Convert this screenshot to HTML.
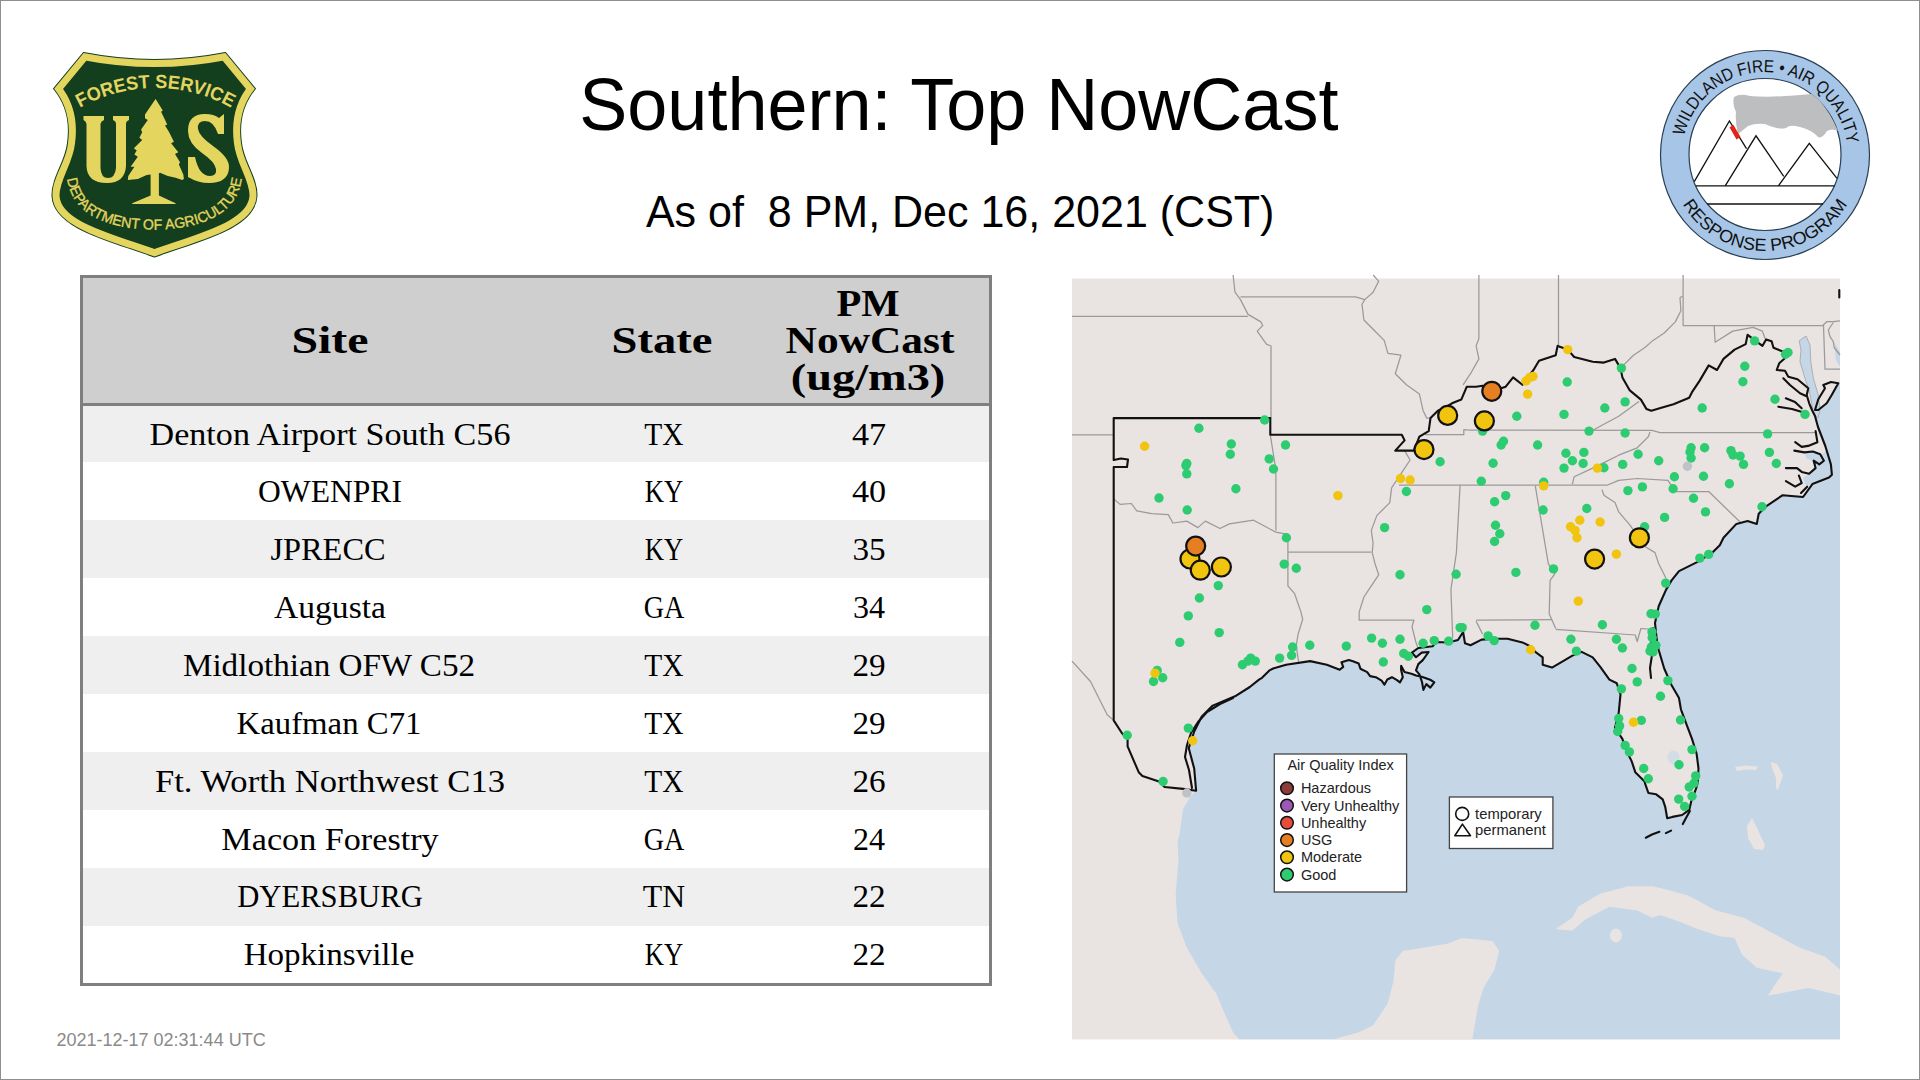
<!DOCTYPE html>
<html><head><meta charset="utf-8"><title>Southern: Top NowCast</title>
<style>
html,body{margin:0;padding:0;background:#fff}
body{width:1920px;height:1080px;position:relative;overflow:hidden;font-family:"Liberation Sans",sans-serif}
.frame{position:absolute;left:0;top:0;width:1920px;height:1080px;box-sizing:border-box;border:1px solid #8e8e8e;z-index:10;pointer-events:none}
.title{position:absolute;white-space:pre;font-family:"Liberation Sans",sans-serif;color:#000;line-height:1}
.tbl{position:absolute;left:80px;top:275px;width:912px;height:711px;box-sizing:border-box;border:3px solid #7f7f7f;background:#fff}
.hdr{position:absolute;left:83px;top:278px;width:906px;height:125px;background:#cfcfcf}
.hline{position:absolute;left:83px;top:403px;width:906px;height:3px;background:#7f7f7f}
.row{position:absolute;left:83px;width:906px}
.td{position:absolute;white-space:pre;font-family:"Liberation Serif",serif;font-size:31px;line-height:1;color:#000}
.th{position:absolute;white-space:pre;font-family:"Liberation Serif",serif;font-weight:bold;font-size:38px;line-height:1;color:#000}
.ts{position:absolute;left:56.5px;top:1030.8px;white-space:pre;font-family:"Liberation Sans",sans-serif;font-size:18px;line-height:1;color:#8a8a8a}
</style></head><body>
<div class="frame"></div>
<svg style="position:absolute;left:0;top:0" width="300" height="300" viewBox="0 0 300 300">
<defs>
<path id="shield" d="M83.6 53.1 Q154.5 67 225.4 53.1 L254.9 88.7 C243 103 238 122 241 143 C243 162 257 178 256.5 196 C255 228 200 240 154.5 256.5 C109 240 54 228 52.5 196 C52 178 66 162 68 143 C71 122 66 103 54.1 88.7 Z"/>
<clipPath id="shclip"><use href="#shield"/></clipPath>
<path id="arcTop" d="M1.5 242 A154 154 0 0 1 309.5 242"/>
<path id="arcBot" d="M66.5 150 L67 172 C67 215 110 229.6 154.6 229.6 C199 229.6 242 215 242 172 L242.5 150"/>
</defs>
<use href="#shield" fill="#143f1f" stroke="#143f1f" stroke-width="2"/>
<use href="#shield" fill="none" stroke="#e4d55f" stroke-width="14" clip-path="url(#shclip)"/>
<text font-family="Liberation Sans" font-weight="bold" font-size="19" fill="#e4d55f"><textPath href="#arcTop" startOffset="50%" text-anchor="middle" textLength="158" lengthAdjust="spacingAndGlyphs">FOREST SERVICE</textPath></text>
<text font-family="Liberation Sans" font-size="14.5" fill="#e4d55f" stroke="#e4d55f" stroke-width="0.35"><textPath href="#arcBot" startOffset="50%" text-anchor="middle" textLength="222" lengthAdjust="spacingAndGlyphs">DEPARTMENT OF AGRICULTURE</textPath></text>
<!-- U -->
<path fill="#e4d55f" d="M83.5 116 H104 V120 Q101 121 100.5 124 V168 Q101 178 108 178 Q115 178 116 168 V124 Q116 121 113 120 V116 H129 V120 Q126 121 126 124 V166 Q125 183 107 183 Q87 183 86.5 166 V124 Q86 121 83.5 120 Z"/>
<!-- S -->
<path fill="#e4d55f" d="M224 114 V134 H218 Q214 121 205 121 Q197 121 198 129 Q199 136 213 146 Q230 158 229 168 Q228 183 209 183 Q198 183 188 177 V157 H195 Q199 176 210 176 Q217 176 216 169 Q215 162 202 153 Q188 143 188 131 Q188 114 205 114 Q214 114 219 118 Z"/>
<!-- tree -->
<path fill="#e4d55f" d="M155.6 98.9 L162.8 110.6 L161.1 111.7 L167.2 124.4 L165 125.6 L168.9 131.7 L173.9 141.7 L171.1 143.3 L178.3 152.2 L175 153.9 L180 162.2 L178.9 164.4 L183.3 174.4 L183.9 178.9 L182.2 180 L175.6 177.8 L167.8 176.1 L160 172.8 L158.9 173.3 L158.9 195.6 L175.6 203.3 L175.6 203.9 L132.2 203.9 L132.2 203.3 L150.6 195.6 L150.6 174.4 L146.7 175 L137.8 178.9 L127.8 180 L128.3 176.1 L134.4 166.7 L130.6 166.7 L137.8 156.7 L134.4 154.4 L136.7 150.6 L133.9 148.3 L142.2 140 L139.4 137.8 L142.2 132.2 L141.1 129.4 L147.8 120 L145 118.3 L145 114.4 L151.1 105.6 Z"/>
</svg>
<svg style="position:absolute;left:1650px;top:40px" width="230" height="230" viewBox="1650 40 230 230">
<defs>
<path id="wArcTop" d="M1682 155 A83 83 0 0 1 1848 155"/>
<path id="wArcBot" d="M1669 155 A96 96 0 0 0 1861 155"/>
</defs>
<circle cx="1765" cy="155" r="104.5" fill="#a7c5e6" stroke="#2a3f55" stroke-width="1.2"/>
<circle cx="1765" cy="154.5" r="76" fill="#fff" stroke="#2a3f55" stroke-width="1.2"/>
<text font-family="Liberation Sans" font-size="17.5" fill="#111"><textPath href="#wArcTop" startOffset="51.5%" text-anchor="middle" textLength="230" lengthAdjust="spacingAndGlyphs">WILDLAND FIRE • AIR QUALITY</textPath></text>
<text font-family="Liberation Sans" font-size="17.5" fill="#111"><textPath href="#wArcBot" startOffset="50%" text-anchor="middle" textLength="198" lengthAdjust="spacingAndGlyphs">RESPONSE PROGRAM</textPath></text>
<path fill="#bcbec0" d="M1734 97 Q1740 93 1750 96 Q1772 98 1812 94 L1819 100 Q1830 112 1838 131 Q1832 128 1827 131 Q1822 139 1818 137 Q1812 130 1800 127 Q1790 124 1786 128 Q1778 130 1765 124 Q1755 123 1748 126 L1738 134 Q1735 122 1736 112 Q1732 104 1734 97 Z"/>
<g fill="none" stroke="#111" stroke-width="1.3">
<path d="M1694.3 181.6 L1729.4 120.9 L1746.5 148.6"/>
<path d="M1725.2 185.9 L1756 135.8 L1783.7 176.3"/>
<path d="M1778.4 185.9 L1809.3 143.3 L1837 178.4"/>
<path d="M1695.8 185.9 H1834.8"/>
<path d="M1707 204 H1823"/>
</g>
<path d="M1729.5 127.3 L1733.5 125 L1740.5 137 L1736.5 139.5 Z" fill="#e32319"/>
</svg>
<div class="title" style="left:579.3px;top:68.8px;font-size:72px;transform:scaleY(1.04);transform-origin:0 61px">Southern: Top NowCast</div>
<div class="title" style="left:645.9px;top:191.3px;font-size:43px;transform:scaleY(1.04);transform-origin:0 36px">As of  8 PM, Dec 16, 2021 (CST)</div>
<div class="tbl"></div>
<div class="hdr"></div>
<div class="hline"></div>
<div class="th" style="left:330px;top:320.8px;transform:translateX(-50%) scaleX(1.259)">Site</div>
<div class="th" style="left:662.2px;top:321.3px;transform:translateX(-50%) scaleX(1.225)">State</div>
<div class="th" style="left:868.4px;top:284.1px;transform:translateX(-50%) scaleX(1.07)">PM</div>
<div class="th" style="left:870px;top:321.3px;transform:translateX(-50%) scaleX(1.143)">NowCast</div>
<div class="th" style="left:868px;top:358px;transform:translateX(-50%) scaleX(1.22)">(ug/m3)</div>
<div class="row" style="top:406px;height:56px;background:#efefef"></div>
<div class="td" style="left:330px;top:419px;transform:translateX(-50%) scaleX(1.1)">Denton Airport South C56</div>
<div class="td" style="left:663.5px;top:419px;transform:translateX(-50%) scaleX(0.95)">TX</div>
<div class="td" style="left:868.5px;top:419px;transform:translateX(-50%) scaleX(1.103)">47</div>
<div class="row" style="top:462px;height:58px;background:#ffffff"></div>
<div class="td" style="left:330px;top:476.3px;transform:translateX(-50%) scaleX(1.019)">OWENPRI</div>
<div class="td" style="left:663.5px;top:476.3px;transform:translateX(-50%) scaleX(0.86)">KY</div>
<div class="td" style="left:868.5px;top:476.3px;transform:translateX(-50%) scaleX(1.103)">40</div>
<div class="row" style="top:520px;height:58px;background:#efefef"></div>
<div class="td" style="left:328.2px;top:534px;transform:translateX(-50%) scaleX(1.045)">JPRECC</div>
<div class="td" style="left:663.5px;top:534px;transform:translateX(-50%) scaleX(0.86)">KY</div>
<div class="td" style="left:868.5px;top:534px;transform:translateX(-50%) scaleX(1.069)">35</div>
<div class="row" style="top:578px;height:58px;background:#ffffff"></div>
<div class="td" style="left:329.5px;top:592.3px;transform:translateX(-50%) scaleX(1.083)">Augusta</div>
<div class="td" style="left:663.5px;top:592.3px;transform:translateX(-50%) scaleX(0.909)">GA</div>
<div class="td" style="left:868.5px;top:592.3px;transform:translateX(-50%) scaleX(1.033)">34</div>
<div class="row" style="top:636px;height:58px;background:#efefef"></div>
<div class="td" style="left:329.4px;top:650.25px;transform:translateX(-50%) scaleX(1.069)">Midlothian OFW C52</div>
<div class="td" style="left:663.5px;top:650.25px;transform:translateX(-50%) scaleX(0.95)">TX</div>
<div class="td" style="left:868.5px;top:650.25px;transform:translateX(-50%) scaleX(1.069)">29</div>
<div class="row" style="top:694px;height:58px;background:#ffffff"></div>
<div class="td" style="left:328.7px;top:707.7px;transform:translateX(-50%) scaleX(1.058)">Kaufman C71</div>
<div class="td" style="left:663.5px;top:707.7px;transform:translateX(-50%) scaleX(0.95)">TX</div>
<div class="td" style="left:868.5px;top:707.7px;transform:translateX(-50%) scaleX(1.069)">29</div>
<div class="row" style="top:752px;height:58px;background:#efefef"></div>
<div class="td" style="left:330px;top:766px;transform:translateX(-50%) scaleX(1.115)">Ft. Worth Northwest C13</div>
<div class="td" style="left:663.5px;top:766px;transform:translateX(-50%) scaleX(0.95)">TX</div>
<div class="td" style="left:868.5px;top:766px;transform:translateX(-50%) scaleX(1.069)">26</div>
<div class="row" style="top:810px;height:58px;background:#ffffff"></div>
<div class="td" style="left:330px;top:823.8px;transform:translateX(-50%) scaleX(1.102)">Macon Forestry</div>
<div class="td" style="left:663.5px;top:823.8px;transform:translateX(-50%) scaleX(0.909)">GA</div>
<div class="td" style="left:868.5px;top:823.8px;transform:translateX(-50%) scaleX(1.033)">24</div>
<div class="row" style="top:868px;height:58px;background:#efefef"></div>
<div class="td" style="left:330.3px;top:881.4px;transform:translateX(-50%) scaleX(0.988)">DYERSBURG</div>
<div class="td" style="left:663.5px;top:881.4px;transform:translateX(-50%) scaleX(1.025)">TN</div>
<div class="td" style="left:868.5px;top:881.4px;transform:translateX(-50%) scaleX(1.071)">22</div>
<div class="row" style="top:926px;height:57px;background:#ffffff"></div>
<div class="td" style="left:329px;top:939px;transform:translateX(-50%) scaleX(1.066)">Hopkinsville</div>
<div class="td" style="left:663.5px;top:939px;transform:translateX(-50%) scaleX(0.86)">KY</div>
<div class="td" style="left:868.5px;top:939px;transform:translateX(-50%) scaleX(1.071)">22</div><svg style="position:absolute;left:1060px;top:268px" width="790" height="782" viewBox="1060 268 790 782">
<defs><clipPath id="mc"><rect x="1072" y="278.5" width="768" height="761"/></clipPath></defs>
<rect x="1072" y="278.5" width="768" height="761" fill="#e9e3e1"/>
<g clip-path="url(#mc)">
<path d="M1238.7 1039.0 L1233.1 1032.6 L1225.7 1015.9 L1216.4 993.7 L1201.6 973.3 L1186.8 947.4 L1177.6 923.3 L1175.7 895.6 L1178.5 858.5 L1177.6 840.0 L1179.4 835.2 L1183.1 809.3 L1190.5 796.3 L1196.1 790.7 L1194.2 768.5 L1188.7 748.1 L1194.2 731.5 L1201.6 716.7 L1212.7 705.6 L1235.0 696.3 L1249.8 687.0 L1259.0 679.6 L1262.0 677.8 L1269.4 670.4 L1273.1 668.5 L1286.1 664.8 L1310.1 661.1 L1326.8 664.8 L1339.7 669.8 L1343.2 666.9 L1341.5 662.3 L1348.9 660.1 L1352.9 661.2 L1358.7 663.5 L1360.4 668.7 L1367.2 672.1 L1370.1 676.1 L1375.8 677.2 L1381.6 680.7 L1384.4 684.7 L1387.3 679.5 L1391.9 677.2 L1397.0 680.1 L1399.9 682.4 L1402.8 677.2 L1401.1 669.8 L1401.1 665.8 L1404.5 672.1 L1411.4 673.8 L1416.0 675.5 L1421.7 676.7 L1430.9 680.1 L1434.3 682.4 L1430.3 687.6 L1426.3 684.1 L1423.4 689.9 L1422.0 682.0 L1419.4 674.4 L1416.0 670.4 L1418.3 664.1 L1422.8 660.1 L1428.6 652.0 L1421.7 652.6 L1416.0 657.2 L1411.9 652.6 L1418.3 648.0 L1432.6 646.3 L1436.1 642.0 L1448.0 642.5 L1458.0 640.0 L1463.1 632.0 L1465.0 643.3 L1470.5 645.2 L1481.6 639.6 L1494.6 638.7 L1507.6 638.7 L1522.4 642.4 L1531.6 647.0 L1535.3 651.9 L1542.7 657.4 L1542.7 664.8 L1552.0 667.6 L1563.1 661.1 L1572.4 655.6 L1581.6 651.9 L1592.7 657.4 L1600.1 666.7 L1609.4 679.6 L1616.8 683.3 L1620.5 694.4 L1618.7 713.0 L1615.0 727.8 L1622.4 738.9 L1626.1 750.0 L1631.6 761.1 L1635.3 772.2 L1644.6 781.5 L1645.2 783.9 L1648.4 793.0 L1656.2 794.3 L1662.7 799.4 L1665.3 807.2 L1667.2 818.2 L1672.4 816.9 L1682.1 815.0 L1689.3 809.8 L1691.2 801.4 L1695.7 789.7 L1697.6 783.3 L1698.5 768.5 L1696.6 753.7 L1692.0 738.9 L1686.4 724.1 L1680.9 709.3 L1679.0 698.1 L1671.6 685.2 L1664.2 668.5 L1658.7 650.0 L1656.8 640.0 L1655.0 623.0 L1658.7 606.3 L1666.1 589.6 L1671.6 580.4 L1679.0 571.1 L1697.6 561.9 L1712.4 552.6 L1719.8 545.2 L1723.5 537.8 L1736.4 523.9 L1747.6 521.1 L1756.8 523.9 L1758.7 513.7 L1766.1 506.3 L1782.7 495.2 L1803.1 497.0 L1812.4 484.1 L1829.0 477.6 L1831.9 474.8 L1830.9 464.4 L1825.3 446.0 L1818.0 427.0 L1815.0 418.0 L1818.0 412.0 L1826.0 404.0 L1832.0 395.0 L1838.0 384.0 L1840.0 380.0 L1840.0 1039.5 L1238.7 1039.5 Z" fill="#c5d6e6"/>
<path d="M1799.2 340.8 L1806 336 L1810 345 L1810.8 361.7 L1813.3 378.3 L1818.3 395 L1820 410 L1818 418 L1813.3 414 L1811.7 403.3 L1809.2 390.8 L1805 378.3 L1800 361.7 L1801 350 Z" fill="#c5d6e6" stroke="#a9a9a9" stroke-width="0.9"/>
<path d="M1834 342 L1840 352 L1840 367 L1836 360 Z" fill="#c5d6e6"/>
<path d="M1805 452 L1815 451 L1822 455 L1826 450 L1830 462 L1831.5 475 L1812 484 L1806 486 L1803 478 L1809 474 L1815 468 L1812 461 L1806 458 Z" fill="#c5d6e6"/>
<path d="M1555.7 928.9 L1572.4 917.8 L1577.9 906.7 L1600.1 893.7 L1627.9 886.3 L1652.0 886.3 L1660.5 888.1 L1688.3 895.6 L1716.1 910.4 L1743.9 917.8 L1771.6 932.6 L1799.4 947.4 L1825.3 956.7 L1840.0 969.6 L1840.0 995.6 L1808.7 988.1 L1767.9 995.6 L1782.7 973.3 L1756.8 967.8 L1742.0 954.8 L1734.6 938.1 L1719.8 936.3 L1697.6 928.9 L1679.0 921.5 L1660.0 915.0 L1652.0 917.8 L1637.2 910.4 L1609.4 906.7 L1585.3 919.6 L1572.4 930.7 Z" fill="#e9e3e1"/>
<path d="M1332.4 1039.5 L1358.3 1032.6 L1373.1 1025.2 L1387.9 1003.0 L1393.5 980.7 L1395.3 960.4 L1402.7 951.1 L1447.2 943.7 L1462.0 938.1 L1492.7 940.9 L1499.2 951.1 L1494.6 969.6 L1483.5 988.1 L1477.9 1006.7 L1472.4 1039.5 Z" fill="#e9e3e1"/>
<path d="M1735.0 767.0 L1745.0 765.5 L1758.0 766.5 L1756.0 770.0 L1745.0 769.5 L1737.0 771.0 Z" fill="#e9e3e1"/>
<path d="M1771.0 762.0 L1777.0 764.0 L1783.0 775.0 L1781.0 781.0 L1778.0 790.0 L1776.0 788.0 L1776.0 778.0 L1772.0 768.0 Z" fill="#e9e3e1"/>
<path d="M1747.0 826.0 L1752.0 818.0 L1758.0 830.0 L1765.0 845.0 L1763.0 850.0 L1754.0 849.0 L1748.0 838.0 Z" fill="#e9e3e1"/>
<ellipse cx="1615.9" cy="935.4" rx="6" ry="7" fill="#e9e3e1"/>
<ellipse cx="1673.5" cy="757.4" rx="6" ry="7" fill="#d3dde6"/>
</g>
<g fill="none" stroke="#9a9a9a" stroke-width="1.25" stroke-linejoin="round">
<path d="M1072.0 316.3 L1247.9 316.3"/>
<path d="M1233.1 275.0 L1235.0 292.2 L1240.5 299.6 L1248.0 314.4 L1260.9 321.9 L1262.7 325.6 L1257.2 331.1 L1266.4 344.1 L1271.0 346.0 L1271.0 418.0"/>
<path d="M1240.5 296.9 L1355.5 296.9 L1364.8 299.6"/>
<path d="M1373.1 275.0 L1378.7 281.1 L1373.1 292.2 L1364.8 299.6 L1362.0 304.3 L1363.9 320.0 L1373.1 329.3 L1384.2 340.4 L1387.9 353.3 L1400.9 355.2 L1395.3 373.7 L1406.4 384.8 L1419.4 394.1 L1423.1 410.7 L1426.8 418.1 L1430.5 418.1"/>
<path d="M1072.0 434.8 L1113.0 434.8"/>
<path d="M1270.3 434.8 L1275.9 470.0 L1275.9 530.4"/>
<path d="M1113.7 498.9 L1120.1 504.4 L1131.3 503.5 L1136.8 510.9 L1151.6 513.7 L1168.3 514.6 L1172.9 523.0 L1186.8 521.1 L1197.9 527.6 L1205.3 521.1 L1220.1 528.5 L1229.4 523.9 L1253.5 520.2 L1262.0 524.8 L1275.9 532.2 L1286.1 534.1 L1287.9 534.5"/>
<path d="M1287.9 534.5 L1287.9 585.9 L1294.4 593.3 L1300.9 611.9 L1302.7 619.3 L1298.1 634.1 L1296.3 645.2 L1297.2 652.6 L1299.0 664.0"/>
<path d="M1287.9 552.2 L1371.3 552.2"/>
<path d="M1404.6 450.6 L1410.1 460.0 L1402.7 471.1 L1391.6 487.8 L1389.8 502.6 L1376.8 515.6 L1371.3 530.4 L1373.1 543.3 L1372.2 552.6 L1375.0 563.7 L1378.7 574.8 L1371.3 585.9 L1363.9 597.0 L1359.2 611.9 L1359.2 620.2 L1413.9 620.2 L1412.0 626.7 L1415.7 641.5 L1417.6 647.0"/>
<path d="M1399.0 485.0 L1607.6 485.0 L1618.7 480.4 L1637.2 478.5 L1667.9 480.4 L1669.8 483.1 L1675.3 491.5 L1708.7 491.5 L1740.1 522.0"/>
<path d="M1572.4 484.1 L1574.2 476.7 L1592.7 468.1 L1603.9 462.6 L1618.7 455.2 L1637.2 447.8 L1648.3 436.7 L1650.0 432.0"/>
<path d="M1425.0 434.7 L1463.8 434.7 L1463.8 429.6 L1468.8 430.0 L1652.0 430.4 L1660.0 432.6 L1816.0 432.6"/>
<path d="M1639.0 401.5 L1618.7 416.3 L1594.6 429.3 L1588.0 431.0"/>
<path d="M1478.9 275.0 L1478.9 338.5 L1476.1 345.9 L1478.9 358.9 L1470.5 373.7 L1463.1 384.8"/>
<path d="M1558.5 275.0 L1558.5 345.9"/>
<path d="M1620.5 368.1 L1633.5 355.2 L1644.6 347.8 L1653.1 340.4 L1664.2 333.0 L1675.3 321.9 L1680.9 310.7 L1680.0 297.8 L1682.7 295.9"/>
<path d="M1683.1 275.0 L1683.1 325.6 L1823.5 325.6 L1825.0 369.2 L1840.0 369.2"/>
<path d="M1822.5 325.8 L1826.7 321.7 L1833.3 321.7 L1840.0 320.8"/>
<path d="M1833.3 322.5 L1828.3 330.0 L1830.0 336.7 L1833.3 341.7 L1834.2 347.5 L1840.0 355.0"/>
<path d="M1714.2 325.6 L1715.1 342.2 L1732.7 331.1 L1753.1 327.4 L1762.4 331.1 L1765.1 338.5"/>
<path d="M1460.1 485.0 L1456.4 552.6 L1450.9 589.6 L1452.7 637.8"/>
<path d="M1535.3 485.9 L1548.3 563.7 L1554.8 573.9 L1550.1 580.4 L1549.2 613.7 L1555.7 628.5"/>
<path d="M1555.7 629.4 L1635.3 635.0 L1637.2 641.5 L1640.9 628.5 L1652.2 629.4 L1656.0 631.0"/>
<path d="M1476.1 620.2 L1552.0 619.6"/>
<path d="M1476.1 621.1 L1482.6 634.1"/>
<path d="M1602.0 489.6 L1603.9 495.2 L1615.0 502.6 L1618.7 511.9 L1629.8 524.8 L1639.0 537.8 L1645.7 547.0 L1655.0 552.6 L1658.7 563.7 L1666.1 578.5"/>
<path d="M1072.0 661.1 L1090.5 681.5 L1107.2 714.8 L1113.7 720.4"/>
</g>
<g fill="none" stroke="#111" stroke-width="2.1" stroke-linejoin="round" stroke-linecap="round">
<path d="M1196.1 790.7 L1183.1 788.9 L1164.6 787.0 L1159.0 781.5 L1142.4 775.9 L1138.7 772.2 L1127.6 746.3 L1127.6 738.9 L1122.0 733.3 L1113.7 720.4 L1113.7 467.0 L1127.0 467.0 L1128.0 459.5 L1121.0 458.5 L1113.7 460.0 L1113.7 418.1 L1270.3 418.1 L1270.3 434.8 L1401.8 434.8 L1404.6 440.4 L1395.3 450.6 L1413.9 450.6 L1419.4 436.7 L1428.7 431.1 L1430.5 418.1 L1437.9 410.7 L1447.7 406.0 L1452.0 403.3 L1461.3 399.6 L1466.8 386.7 L1476.1 386.7 L1482.6 385.7 L1491.8 391.3 L1505.7 386.7 L1513.1 377.4 L1522.4 384.8 L1528.0 377.0 L1533.5 370.0 L1539.0 360.7 L1555.7 355.2 L1557.6 345.9 L1567.7 349.6 L1574.2 357.0 L1592.7 361.7 L1603.9 362.6 L1615.0 358.9 L1620.5 368.1 L1622.4 377.4 L1629.8 390.4 L1640.9 399.6 L1646.4 408.9 L1651.3 410.7 L1660.5 408.0 L1673.5 404.3 L1689.2 397.8 L1692.0 392.2 L1699.4 381.1 L1708.7 365.4 L1717.0 370.0 L1723.5 358.9 L1734.6 349.6 L1745.7 344.1 L1747.6 334.8 L1751.3 337.6 L1762.4 345.9 L1766.1 339.4 L1771.6 341.3 L1773.5 347.8 L1782.7 351.5 L1788.3 355.2 L1779.2 363.3 L1776.7 370.0 L1785.0 370.8 L1788.3 376.7 L1797.5 379.2 L1808.3 388.3 L1806.7 395.0 L1809.2 403.3 L1812.0 410.0 L1815.0 416.0 L1818.0 427.0 L1825.3 446.0 L1830.9 464.4 L1831.9 474.8 L1829.0 477.6 L1812.4 484.1 L1803.1 497.0 L1782.7 495.2 L1766.1 506.3 L1758.7 513.7 L1756.8 523.9 L1747.6 521.1 L1736.4 523.9 L1723.5 537.8 L1719.8 545.2 L1712.4 552.6 L1697.6 561.9 L1679.0 571.1 L1671.6 580.4 L1666.1 589.6 L1658.7 606.3 L1655.0 623.0 L1656.8 640.0 L1658.7 650.0 L1664.2 668.5 L1671.6 685.2 L1679.0 698.1 L1680.9 709.3 L1686.4 724.1 L1692.0 738.9 L1696.6 753.7 L1698.5 768.5 L1697.6 783.3 L1695.7 789.7 L1691.2 801.4 L1689.3 809.8 L1682.1 815.0 L1672.4 816.9 L1667.2 818.2 L1665.3 807.2 L1662.7 799.4 L1656.2 794.3 L1648.4 793.0 L1645.2 783.9 L1644.6 781.5 L1635.3 772.2 L1631.6 761.1 L1626.1 750.0 L1622.4 738.9 L1615.0 727.8 L1618.7 713.0 L1620.5 694.4 L1616.8 683.3 L1609.4 679.6 L1600.1 666.7 L1592.7 657.4 L1581.6 651.9 L1572.4 655.6 L1563.1 661.1 L1552.0 667.6 L1542.7 664.8 L1542.7 657.4 L1535.3 651.9 L1531.6 647.0 L1522.4 642.4 L1507.6 638.7 L1494.6 638.7 L1481.6 639.6 L1470.5 645.2 L1465.0 643.3 L1463.1 632.0 L1458.0 640.0 L1448.0 642.5 L1436.1 642.0 L1432.6 646.3 L1418.3 648.0 L1411.9 652.6 L1416.0 657.2 L1421.7 652.6 L1428.6 652.0 L1422.8 660.1 L1418.3 664.1 L1416.0 670.4 L1419.4 674.4 L1422.0 682.0 L1423.4 689.9 L1426.3 684.1 L1430.3 687.6 L1434.3 682.4 L1430.9 680.1 L1421.7 676.7 L1416.0 675.5 L1411.4 673.8 L1404.5 672.1 L1401.1 665.8 L1401.1 669.8 L1402.8 677.2 L1399.9 682.4 L1397.0 680.1 L1391.9 677.2 L1387.3 679.5 L1384.4 684.7 L1381.6 680.7 L1375.8 677.2 L1370.1 676.1 L1367.2 672.1 L1360.4 668.7 L1358.7 663.5 L1352.9 661.2 L1348.9 660.1 L1341.5 662.3 L1343.2 666.9 L1339.7 669.8 L1326.8 664.8 L1310.1 661.1 L1286.1 664.8 L1273.1 668.5 L1269.4 670.4 L1262.0 677.8 L1259.0 679.6 L1249.8 687.0 L1235.0 696.3 L1212.7 705.6 L1201.6 716.7 L1194.2 731.5 L1188.7 748.1 L1194.2 768.5 L1196.1 790.7"/>
<path d="M1783.3 378.3 L1790.0 385.0 L1800.0 393.3 L1806.0 396.0"/>
<path d="M1785.8 398.3 L1795.0 402.0 L1801.7 408.3"/>
<path d="M1778.3 406.7 L1792.0 409.0 L1802.0 412.0"/>
<path d="M1823.3 385.0 L1831.0 382.0 L1838.3 383.3 L1831.7 395.0 L1826.7 403.3 L1818.3 410.0 L1815.0 410.0 L1818.3 399.2 L1825.0 388.3 L1823.3 385.0"/>
<path d="M1815.6 431.1 L1817.4 442.2 L1808.1 445.9 L1801.7 446.9 L1795.2 442.2"/>
<path d="M1794.3 450.6 L1804.4 452.4 L1812.8 451.5 L1820.2 454.3 L1823.9 460.7 L1819.3 464.4 L1813.7 460.7 L1815.6 468.1 L1809.1 473.7 L1801.7 471.9 L1797.0 468.1 L1785.9 468.1"/>
<path d="M1798.9 475.6 L1801.7 483.0 L1795.2 486.7 L1785.9 481.1"/>
<path d="M1807.2 486.7 L1801.0 493.0"/>
<path d="M1839.3 290.0 L1839.3 297.5"/>
<path d="M1653.0 628.0 L1651.0 640.0 L1652.0 655.0 L1650.0 668.0 L1651.0 678.0"/>
<path d="M1192.0 788.0 L1189.0 770.0 L1185.0 757.0 L1187.0 745.0 L1191.0 733.0 L1198.0 722.0 L1207.0 712.0 L1220.0 704.0 L1233.0 698.0"/>
<path d="M1689.9 811.1 L1686.0 818.0 L1682.8 824.1"/>
<path d="M1671.1 830.6 L1665.9 833.1"/>
<path d="M1659.4 831.8 L1652.0 834.5 L1645.8 837.7"/>
</g>
<g fill="#2ecc71"><circle cx="1264.6" cy="420" r="4.7"/><circle cx="1198.9" cy="428.3" r="4.7"/><circle cx="1231.3" cy="444" r="4.7"/><circle cx="1230.3" cy="454.3" r="4.7"/><circle cx="1186.8" cy="463.5" r="4.7"/><circle cx="1269.2" cy="458.9" r="4.7"/><circle cx="1285.5" cy="445" r="4.7"/><circle cx="1273.5" cy="469" r="4.7"/><circle cx="1440.1" cy="461.7" r="4.7"/><circle cx="1567.2" cy="382" r="4.7"/><circle cx="1516.8" cy="416.3" r="4.7"/><circle cx="1564" cy="414.4" r="4.7"/><circle cx="1604.8" cy="408" r="4.7"/><circle cx="1625.1" cy="401.9" r="4.7"/><circle cx="1621.4" cy="368.1" r="4.7"/><circle cx="1589" cy="431.1" r="4.7"/><circle cx="1625.1" cy="433" r="4.7"/><circle cx="1482.6" cy="431.1" r="4.7"/><circle cx="1503.5" cy="441.3" r="4.7"/><circle cx="1501.1" cy="445" r="4.7"/><circle cx="1537.6" cy="445" r="4.7"/><circle cx="1565.9" cy="453.3" r="4.7"/><circle cx="1572.4" cy="460.7" r="4.7"/><circle cx="1583.9" cy="452.4" r="4.7"/><circle cx="1583.1" cy="463.5" r="4.7"/><circle cx="1638.1" cy="454.3" r="4.7"/><circle cx="1622.7" cy="464.4" r="4.7"/><circle cx="1564" cy="468.1" r="4.7"/><circle cx="1754.6" cy="340.9" r="4.7"/><circle cx="1785.5" cy="354.3" r="4.7"/><circle cx="1788" cy="352.5" r="4.7"/><circle cx="1744.8" cy="366.3" r="4.7"/><circle cx="1742.9" cy="381.7" r="4.7"/><circle cx="1775" cy="399.3" r="4.7"/><circle cx="1702.2" cy="408" r="4.7"/><circle cx="1805" cy="414.4" r="4.7"/><circle cx="1767.6" cy="433.9" r="4.7"/><circle cx="1691.1" cy="447.8" r="4.7"/><circle cx="1690" cy="452" r="4.7"/><circle cx="1691.1" cy="458" r="4.7"/><circle cx="1704.6" cy="447.8" r="4.7"/><circle cx="1730.9" cy="450.6" r="4.7"/><circle cx="1740.1" cy="456.1" r="4.7"/><circle cx="1733" cy="455" r="4.7"/><circle cx="1743.5" cy="464.4" r="4.7"/><circle cx="1769.4" cy="452.4" r="4.7"/><circle cx="1776.3" cy="463.5" r="4.7"/><circle cx="1658.7" cy="460.7" r="4.7"/><circle cx="1185.9" cy="465.6" r="4.7"/><circle cx="1186.8" cy="473.9" r="4.7"/><circle cx="1235.9" cy="488.7" r="4.7"/><circle cx="1159" cy="498" r="4.7"/><circle cx="1187.2" cy="510" r="4.7"/><circle cx="1218.3" cy="585.6" r="4.7"/><circle cx="1199.4" cy="598" r="4.7"/><circle cx="1188.3" cy="615.9" r="4.7"/><circle cx="1219.2" cy="632.6" r="4.7"/><circle cx="1179.8" cy="642.4" r="4.7"/><circle cx="1250.7" cy="658.1" r="4.7"/><circle cx="1406.4" cy="491.5" r="4.7"/><circle cx="1384.6" cy="527.6" r="4.7"/><circle cx="1286.4" cy="537.8" r="4.7"/><circle cx="1284.2" cy="564.1" r="4.7"/><circle cx="1296.3" cy="568.3" r="4.7"/><circle cx="1400" cy="574.8" r="4.7"/><circle cx="1456.1" cy="574.3" r="4.7"/><circle cx="1426.8" cy="609.6" r="4.7"/><circle cx="1460.1" cy="627.6" r="4.7"/><circle cx="1371.6" cy="638.1" r="4.7"/><circle cx="1382.4" cy="643.3" r="4.7"/><circle cx="1400" cy="639.3" r="4.7"/><circle cx="1423.1" cy="643.3" r="4.7"/><circle cx="1434.2" cy="640.6" r="4.7"/><circle cx="1448.7" cy="641.1" r="4.7"/><circle cx="1309.8" cy="645.2" r="4.7"/><circle cx="1346.3" cy="646.1" r="4.7"/><circle cx="1292.6" cy="647" r="4.7"/><circle cx="1291.6" cy="655.4" r="4.7"/><circle cx="1279.6" cy="658.1" r="4.7"/><circle cx="1403.7" cy="653.5" r="4.7"/><circle cx="1408.3" cy="656.3" r="4.7"/><circle cx="1493.1" cy="463.3" r="4.7"/><circle cx="1481.3" cy="481.3" r="4.7"/><circle cx="1505.7" cy="495.6" r="4.7"/><circle cx="1494.6" cy="501.7" r="4.7"/><circle cx="1495.5" cy="525.2" r="4.7"/><circle cx="1499.8" cy="533.7" r="4.7"/><circle cx="1494.6" cy="541.5" r="4.7"/><circle cx="1515.9" cy="572.4" r="4.7"/><circle cx="1543.1" cy="510" r="4.7"/><circle cx="1543.7" cy="482.2" r="4.7"/><circle cx="1553.5" cy="568.9" r="4.7"/><circle cx="1586.8" cy="508.5" r="4.7"/><circle cx="1603.9" cy="467.8" r="4.7"/><circle cx="1627.9" cy="490.6" r="4.7"/><circle cx="1642.4" cy="486.9" r="4.7"/><circle cx="1644.6" cy="526.7" r="4.7"/><circle cx="1535" cy="625.2" r="4.7"/><circle cx="1602.4" cy="624.8" r="4.7"/><circle cx="1462.2" cy="627.6" r="4.7"/><circle cx="1488.1" cy="635.9" r="4.7"/><circle cx="1494.2" cy="640.6" r="4.7"/><circle cx="1570.9" cy="639.3" r="4.7"/><circle cx="1576.4" cy="651.1" r="4.7"/><circle cx="1616.4" cy="639.3" r="4.7"/><circle cx="1622.4" cy="648" r="4.7"/><circle cx="1651" cy="613.7" r="4.7"/><circle cx="1674.4" cy="476.7" r="4.7"/><circle cx="1703.5" cy="476.3" r="4.7"/><circle cx="1729.4" cy="483.7" r="4.7"/><circle cx="1673.1" cy="488.7" r="4.7"/><circle cx="1693.5" cy="498.3" r="4.7"/><circle cx="1705.5" cy="511.9" r="4.7"/><circle cx="1664.6" cy="517.4" r="4.7"/><circle cx="1762" cy="506.7" r="4.7"/><circle cx="1699.8" cy="558.1" r="4.7"/><circle cx="1708.7" cy="554.4" r="4.7"/><circle cx="1665.7" cy="583.1" r="4.7"/><circle cx="1655.3" cy="614.1" r="4.7"/><circle cx="1652.2" cy="637.8" r="4.7"/><circle cx="1651.3" cy="647" r="4.7"/><circle cx="1655.9" cy="645.2" r="4.7"/><circle cx="1652" cy="632" r="4.7"/><circle cx="1653" cy="652" r="4.7"/><circle cx="1157.2" cy="670.4" r="4.7"/><circle cx="1153.5" cy="681.5" r="4.7"/><circle cx="1162.7" cy="677.8" r="4.7"/><circle cx="1247.9" cy="661.1" r="4.7"/><circle cx="1255.3" cy="661.1" r="4.7"/><circle cx="1242.4" cy="664.8" r="4.7"/><circle cx="1127.2" cy="735.2" r="4.7"/><circle cx="1188.3" cy="728.1" r="4.7"/><circle cx="1163.1" cy="781.5" r="4.7"/><circle cx="1383.3" cy="662" r="4.7"/><circle cx="1650" cy="651" r="4.7"/><circle cx="1632" cy="668.5" r="4.7"/><circle cx="1637.2" cy="681.9" r="4.7"/><circle cx="1621.4" cy="688.9" r="4.7"/><circle cx="1618.7" cy="718.5" r="4.7"/><circle cx="1619.6" cy="725.9" r="4.7"/><circle cx="1617.7" cy="731.5" r="4.7"/><circle cx="1641.3" cy="720.4" r="4.7"/><circle cx="1625.1" cy="745.4" r="4.7"/><circle cx="1629.4" cy="751.9" r="4.7"/><circle cx="1643.7" cy="768.5" r="4.7"/><circle cx="1648.3" cy="778.7" r="4.7"/><circle cx="1667.9" cy="680.6" r="4.7"/><circle cx="1660.5" cy="696.3" r="4.7"/><circle cx="1680.5" cy="720" r="4.7"/><circle cx="1692" cy="749.6" r="4.7"/><circle cx="1679" cy="764.8" r="4.7"/><circle cx="1695.7" cy="775.9" r="4.7"/><circle cx="1693.9" cy="783.3" r="4.7"/><circle cx="1689.2" cy="787" r="4.7"/><circle cx="1692" cy="796.3" r="4.7"/><circle cx="1678.7" cy="799.1" r="4.7"/><circle cx="1684.6" cy="806.5" r="4.7"/></g>
<g fill="#f1c40f"><circle cx="1144.6" cy="446.3" r="4.7"/><circle cx="1567.7" cy="349.6" r="4.7"/><circle cx="1529.8" cy="377.4" r="4.7"/><circle cx="1526" cy="381" r="4.7"/><circle cx="1533" cy="376.5" r="4.7"/><circle cx="1527.6" cy="394.1" r="4.7"/><circle cx="1597.4" cy="468.1" r="4.7"/><circle cx="1337.9" cy="495.6" r="4.7"/><circle cx="1400.5" cy="478.5" r="4.7"/><circle cx="1410.1" cy="480" r="4.7"/><circle cx="1543.7" cy="485.9" r="4.7"/><circle cx="1579.8" cy="520.2" r="4.7"/><circle cx="1600.1" cy="522" r="4.7"/><circle cx="1570.5" cy="526.7" r="4.7"/><circle cx="1575.1" cy="530.4" r="4.7"/><circle cx="1577" cy="537.8" r="4.7"/><circle cx="1616.4" cy="554.1" r="4.7"/><circle cx="1578.3" cy="601.1" r="4.7"/><circle cx="1530.7" cy="649.8" r="4.7"/><circle cx="1155" cy="673.1" r="4.7"/><circle cx="1192.7" cy="740.7" r="4.7"/><circle cx="1633.5" cy="722.2" r="4.7"/></g>
<g fill="#bfc3c7"><circle cx="1687.4" cy="466.3" r="4.7"/><circle cx="1186.8" cy="793" r="4.7"/></g>
<g stroke="#111" stroke-width="2.2"><circle cx="1190" cy="559" r="9.5" fill="#f1c40f"/><circle cx="1491.8" cy="391.3" r="9.5" fill="#e67e22"/><circle cx="1195.7" cy="546.1" r="9.5" fill="#e67e22"/><circle cx="1447.7" cy="415.4" r="9.5" fill="#f1c40f"/><circle cx="1424" cy="449.6" r="9.5" fill="#f1c40f"/><circle cx="1484.4" cy="420.9" r="9.5" fill="#f1c40f"/><circle cx="1200.3" cy="570.2" r="9.5" fill="#f1c40f"/><circle cx="1221.4" cy="567" r="9.5" fill="#f1c40f"/><circle cx="1594.6" cy="559.1" r="9.5" fill="#f1c40f"/><circle cx="1639.4" cy="537.8" r="9.5" fill="#f1c40f"/></g>
<rect x="1274.3" y="754" width="132.3" height="138" fill="#fff" stroke="#444" stroke-width="1.3"/>
<text x="1287.4" y="770.4" font-family="Liberation Sans" font-size="14.5" fill="#222">Air Quality Index</text>
<circle cx="1287" cy="788.3" r="6.3" fill="#8e3b3b" stroke="#111" stroke-width="1.5"/>
<text x="1300.9" y="793.3" font-family="Liberation Sans" font-size="14.5" fill="#222">Hazardous</text>
<circle cx="1287" cy="805.6" r="6.3" fill="#9b59b6" stroke="#111" stroke-width="1.5"/>
<text x="1300.9" y="810.6" font-family="Liberation Sans" font-size="14.5" fill="#222">Very Unhealthy</text>
<circle cx="1287" cy="822.8" r="6.3" fill="#e74c3c" stroke="#111" stroke-width="1.5"/>
<text x="1300.9" y="827.8" font-family="Liberation Sans" font-size="14.5" fill="#222">Unhealthy</text>
<circle cx="1287" cy="840.1" r="6.3" fill="#e67e22" stroke="#111" stroke-width="1.5"/>
<text x="1300.9" y="845.1" font-family="Liberation Sans" font-size="14.5" fill="#222">USG</text>
<circle cx="1287" cy="857.3" r="6.3" fill="#f1c40f" stroke="#111" stroke-width="1.5"/>
<text x="1300.9" y="862.3" font-family="Liberation Sans" font-size="14.5" fill="#222">Moderate</text>
<circle cx="1287" cy="874.6" r="6.3" fill="#2ecc71" stroke="#111" stroke-width="1.5"/>
<text x="1300.9" y="879.6" font-family="Liberation Sans" font-size="14.5" fill="#222">Good</text>
<rect x="1449.4" y="797" width="103.5" height="51.5" fill="#fff" stroke="#444" stroke-width="1.3"/>
<circle cx="1462.2" cy="813.9" r="6.5" fill="none" stroke="#111" stroke-width="1.6"/>
<path d="M1454.8 835.7 L1470.5 835.7 L1462.4 824.1 Z" fill="none" stroke="#111" stroke-width="1.6" stroke-linejoin="round"/>
<text x="1475.1" y="819.4" font-family="Liberation Sans" font-size="14.8" fill="#222">temporary</text>
<text x="1475.1" y="835.2" font-family="Liberation Sans" font-size="14.8" fill="#222">permanent</text>
</svg>
<div class="ts">2021-12-17 02:31:44 UTC</div>
</body></html>
